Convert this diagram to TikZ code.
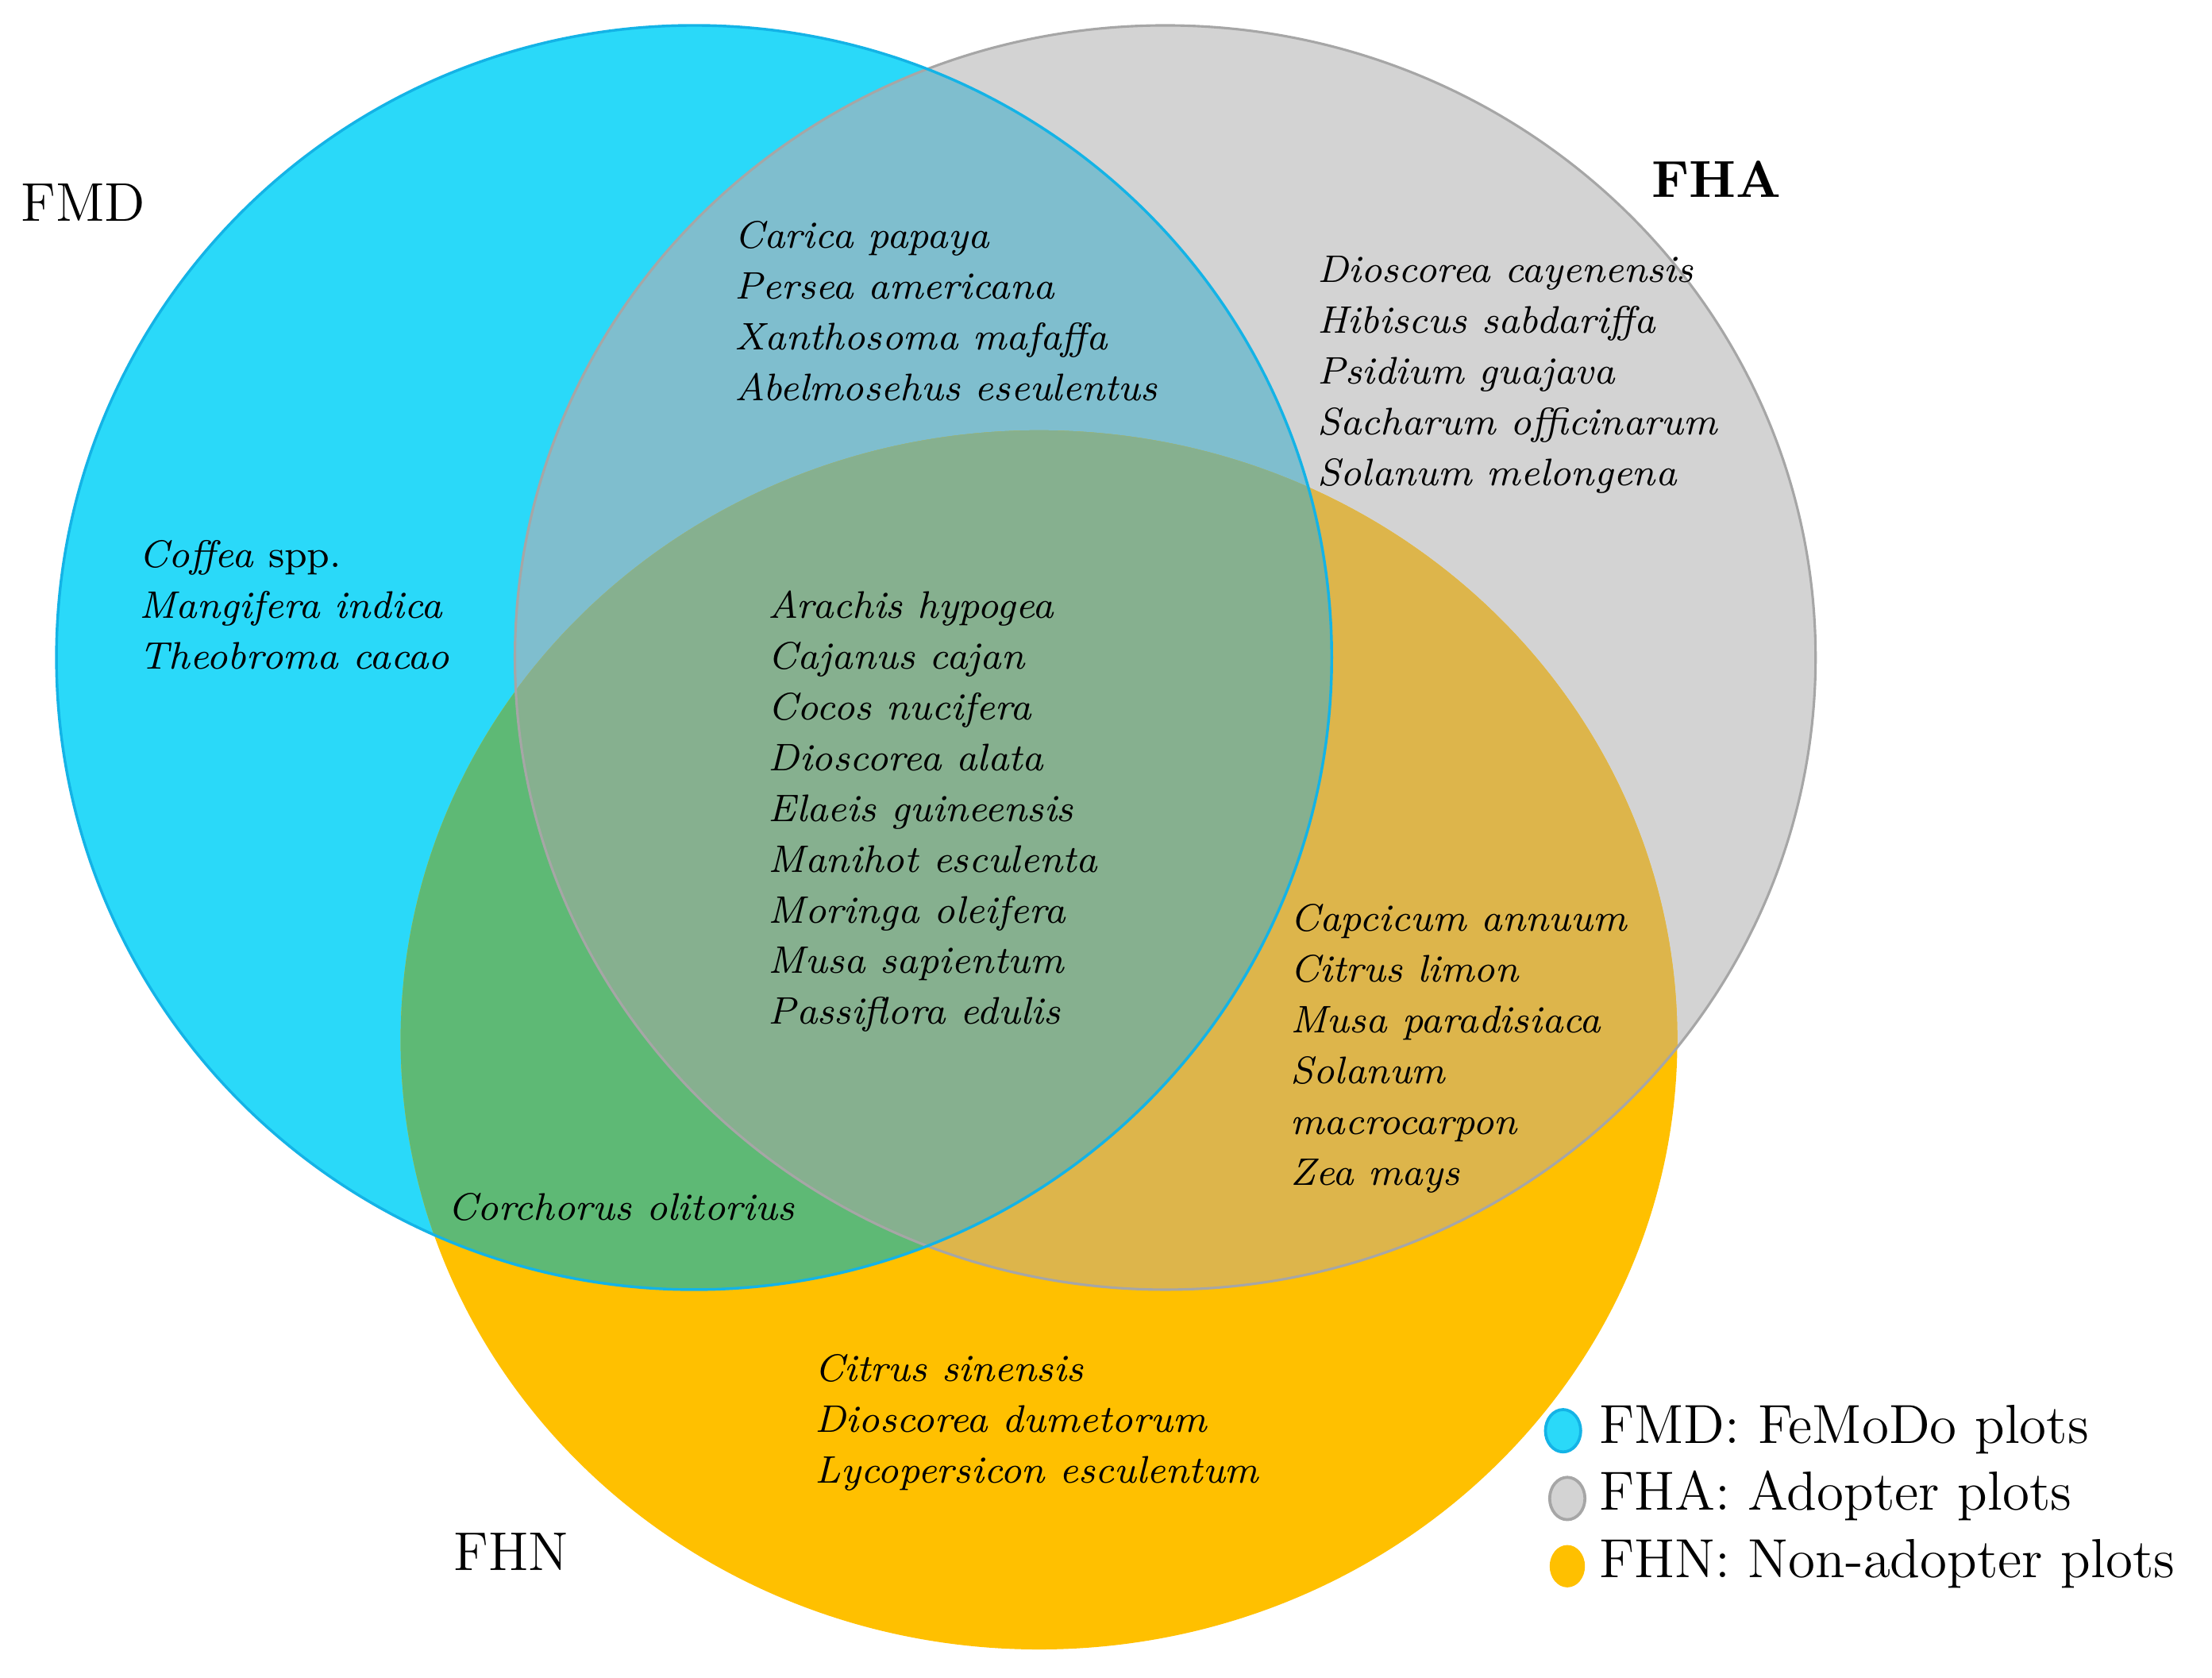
\documentclass[tikz,border=0pt]{standalone}
\usepackage{tikz}
\usetikzlibrary{shapes.geometric, positioning}
\definecolor{fmdcol}{HTML}{2AD9F9}
\definecolor{fhacol}{HTML}{D3D3D3}
\definecolor{fhncol}{HTML}{FFC000}
\definecolor{mdhacol}{HTML}{7FBECE}
\definecolor{mdhncol}{HTML}{5EB975}
\definecolor{hahncol}{HTML}{DDB54B}
\definecolor{allcol}{HTML}{86B08F}
\definecolor{fmdline}{HTML}{14B3E6}
\definecolor{fhaline}{HTML}{A6A6A6}
\tikzstyle{species}=[anchor=base west, inner sep=0pt, align=left, font=\fontsize{7.75}{10.24}\selectfont\itshape]
\tikzstyle{setname}=[anchor=base west, inner sep=0pt, font=\fontsize{11}{13}\selectfont]
\tikzstyle{legtext}=[anchor=base west, inner sep=0pt, font=\fontsize{11.1}{13}\selectfont]
\tikzstyle{legdot}=[ellipse, inner sep=0pt, minimum width=2.5mm, minimum height=3mm]
\def\fmdset{(492,466) ellipse [x radius=45.2mm, y radius=44.8mm]}
\def\fhaset{(826,466) ellipse [x radius=46.1mm, y radius=44.8mm]}
\def\fhnset{(736.5,737) ellipse [x radius=45.25mm, y radius=43.2mm]}

\begin{document}
\begin{tikzpicture}[x=0.1mm, y=-0.1mm]
		\useasboundingbox (0,0) rectangle (1568,1189);
		\fill[fmdcol] \fmdset;
		\fill[fhacol] \fhaset;
		\fill[fhncol] \fhnset;
		\begin{scope}
			\clip \fmdset;
			\fill[mdhacol] \fhaset;
			\fill[mdhncol] \fhnset;
		\end{scope}
		\begin{scope}
			\clip \fhaset;
			\fill[hahncol] \fhnset;
			\clip \fmdset;
			\fill[allcol] \fhnset;
		\end{scope}
		\draw[fhaline, line width=0.5pt] \fhaset;
		\draw[fmdline, line width=0.55pt] \fmdset;
	%--------------------
		\node[setname] (FMD) at (14,157) {FMD};
		\node[setname, font=\fontsize{10.5}{13}\selectfont\bfseries] (FHA) at (1170,140) {FHA};
		\node[setname] (FHN) at (321,1113) {FHN};
	% base anchor of a multi-line node = last line
		\node[species] (mdha) at (520,284) {Carica papaya\\Persea americana\\Xanthosoma mafaffa\\Abelmosehus eseulentus};
		\node[species] (ha) at (933,344) {Dioscorea cayenensis\\Hibiscus sabdariffa\\Psidium guajava\\Sacharum officinarum\\Solanum melongena};
		\node[species] (md) at (98,474) {Coffea \textup{spp.}\\Mangifera indica\\Theobroma cacao};
		\node[species] (all) at (544,726) {Arachis hypogea\\Cajanus cajan\\Cocos nucifera\\Dioscorea alata\\Elaeis guineensis\\Manihot esculenta\\Moringa oleifera\\Musa sapientum\\Passiflora edulis};
		\node[species] (hahn) at (914,840) {Capcicum annuum\\Citrus limon\\Musa paradisiaca\\Solanum\\macrocarpon\\Zea mays};
		\node[species] (mdhn) at (317,865) {Corchorus olitorius};
		\node[species] (hn) at (577,1051) {Citrus sinensis\\Dioscorea dumetorum\\Lycopersicon esculentum};
	%--------------------
		\node[legdot, fill=fmdcol, draw=fmdline, line width=0.6pt] (d1) at (1108,1014) {};
		\node[legdot, fill=fhacol, draw=fhaline, line width=0.6pt] (d2) at (1111,1062) {};
		\node[legdot, fill=fhncol] (d3) at (1111,1110) {};
		\node[legtext] (l1) at (1133,1023) {FMD: FeMoDo plots};
		\node[legtext] (l2) at (1133,1070) {FHA: Adopter plots};
		\node[legtext] (l3) at (1133,1118) {FHN: Non-adopter plots};
	\end{tikzpicture}
\end{document}
